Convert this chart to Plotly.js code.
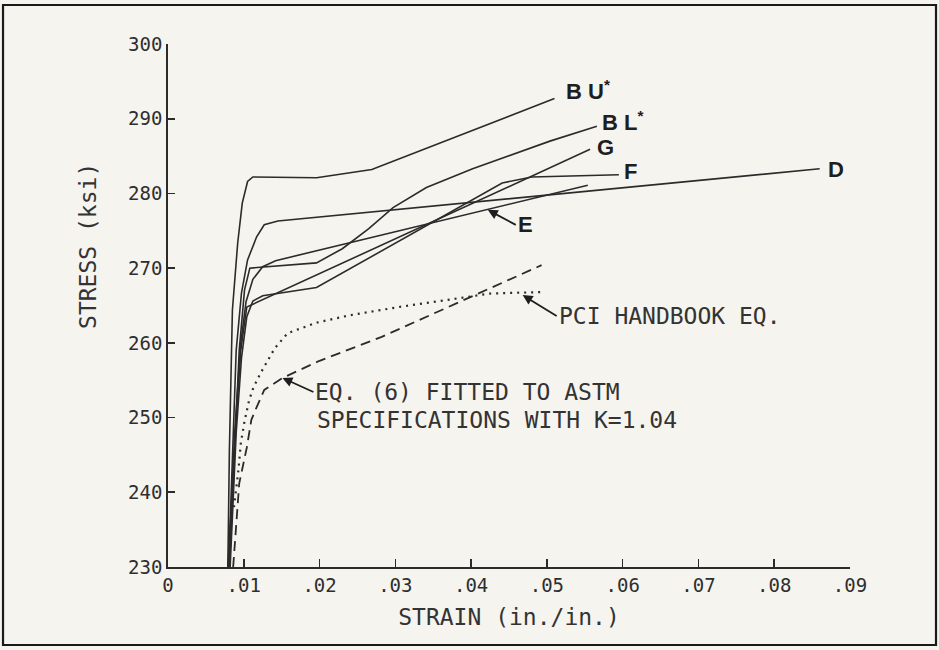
<!DOCTYPE html>
<html>
<head>
<meta charset="utf-8">
<script src="https://cdn.plot.ly/plotly-3.0.1.min.js"></script>
<style>
  html, body { margin: 0; padding: 0; background: #f6f4ef; }
  #chart { width: 939px; height: 650px; }
</style>
</head>
<body>
<div id="chart"></div>
<script>
// ---- data (strain in./in., stress ksi) ----
const buStrain = [0.0079, 0.0081, 0.0085, 0.0092, 0.0098, 0.0105, 0.0112, 0.0196, 0.0269, 0.0510];
const buStress = [230.0, 245.6, 264.4, 273.4, 278.7, 281.6, 282.2, 282.1, 283.2, 292.7];

const blStrain = [0.0079, 0.0088, 0.0094, 0.0101, 0.0108, 0.0196, 0.0230, 0.0265, 0.0297, 0.0341, 0.0402, 0.0504, 0.0566];
const blStress = [230.0, 245.6, 259.0, 267.1, 270.0, 270.7, 272.6, 275.3, 278.1, 280.8, 283.3, 287.0, 289.0];

const gStrain = [0.0081, 0.0090, 0.0096, 0.0104, 0.0557];
const gStress = [230.0, 250.0, 259.0, 264.8, 285.9];

const fStrain = [0.0082, 0.0090, 0.0097, 0.0104, 0.0112, 0.0125, 0.0196, 0.0441, 0.0480, 0.0595];
const fStress = [230.0, 248.0, 258.0, 263.5, 265.6, 266.3, 267.4, 281.4, 282.2, 282.5];

const dStrain = [0.0080, 0.0085, 0.0090, 0.0097, 0.0105, 0.0117, 0.0127, 0.0145, 0.0860];
const dStress = [230.0, 245.6, 259.0, 266.7, 271.1, 274.2, 275.8, 276.3, 283.3];

const eStrain = [0.0080, 0.0088, 0.0096, 0.0103, 0.0112, 0.0125, 0.0142, 0.0554];
const eStress = [230.0, 248.0, 260.0, 265.5, 268.5, 270.2, 271.0, 281.1];

const eq6Strain = [0.0086, 0.0090, 0.0094, 0.0104, 0.0110, 0.0117, 0.0127, 0.0151, 0.0200, 0.0282, 0.0395, 0.0493];
const eq6Stress = [230.0, 235.0, 241.2, 246.0, 249.7, 251.4, 253.7, 255.3, 257.6, 260.8, 266.0, 270.4];

const pciStrain = [0.0087, 0.0093, 0.0096, 0.0101, 0.0107, 0.0113, 0.0123, 0.0141, 0.0158, 0.0196, 0.0240, 0.0305, 0.0372, 0.0425, 0.0493];
const pciStress = [238.0, 243.0, 246.5, 249.5, 252.3, 254.1, 256.1, 259.3, 261.3, 262.7, 263.7, 264.8, 265.8, 266.6, 266.8];

const xTickVals = [0, 0.01, 0.02, 0.03, 0.04, 0.05, 0.06, 0.07, 0.08, 0.09];
const xTickText = ['0', '.01', '.02', '.03', '.04', '.05', '.06', '.07', '.08', '.09'];
const yTickVals = [230, 240, 250, 260, 270, 280, 290, 300];
const yTickText = ['230', '240', '250', '260', '270', '280', '290', '300'];

// ---- styling ----
const ink = '#2b2b2b';
const mono = 'DejaVu Sans Mono, monospace';
const bold = 'Liberation Sans, Arial, sans-serif';

function solid(x, y, name) {
  return {x: x, y: y, name: name, type: 'scatter', mode: 'lines',
          line: {color: ink, width: 1.6}, hoverinfo: 'skip'};
}

const traces = [
  solid(buStrain, buStress, 'BU*'),
  solid(blStrain, blStress, 'BL*'),
  solid(gStrain, gStress, 'G'),
  solid(fStrain, fStress, 'F'),
  solid(dStrain, dStress, 'D'),
  solid(eStrain, eStress, 'E'),
  {x: eq6Strain, y: eq6Stress, name: 'Eq. (6)', type: 'scatter', mode: 'lines',
   line: {color: ink, width: 1.8, dash: '10px,6px'}, hoverinfo: 'skip'},
  {x: pciStrain, y: pciStress, name: 'PCI', type: 'scatter', mode: 'lines',
   line: {color: ink, width: 2.2, dash: '2px,5px'}, hoverinfo: 'skip'}
];

const boldFont = {family: bold, size: 22, color: '#1e1e1e', weight: 'bold'};
const monoFont = {family: mono, size: 23, color: '#333333'};

function lbl(text, x, y) {
  return {text: text, x: x, y: y, xref: 'x', yref: 'y', showarrow: false,
          xanchor: 'left', yanchor: 'middle', font: boldFont};
}
function note(text, x, y) {
  return {text: text, x: x, y: y, xref: 'x', yref: 'y', showarrow: false,
          xanchor: 'left', yanchor: 'middle', font: monoFont};
}
// text whose left-middle point is the tail of an arrow pointing at (x, y)
function pointer(text, x, y, ax, ay, font) {
  return {text: text, x: x, y: y, xref: 'x', yref: 'y', ax: ax, ay: ay,
          xanchor: 'left', yanchor: 'middle', showarrow: true,
          arrowhead: 2, arrowsize: 1.1, arrowwidth: 1.8, arrowcolor: '#1e1e1e',
          standoff: 0, startstandoff: 0, font: font};
}

const annotations = [
  lbl('B U<sup>*</sup>', 0.0522, 293.9),
  lbl('B L<sup>*</sup>', 0.0570, 289.7),
  lbl('G', 0.0563, 286.2),
  lbl('F', 0.0599, 282.9),
  lbl('D', 0.0868, 283.2),
  pointer('E', 0.0422, 277.8, 28, 15, boldFont),
  pointer('PCI HANDBOOK EQ.', 0.0468, 266.4, 34, 21, monoFont),
  pointer('EQ. (6) FITTED TO ASTM', 0.0151, 255.3, 31, 14, monoFont),
  note('SPECIFICATIONS WITH K=1.04', 0.0194, 249.7),
  {text: 'STRESS (ksi)', xref: 'paper', yref: 'y', x: -0.117, y: 273.0,
   textangle: -90, showarrow: false, xanchor: 'center', yanchor: 'middle',
   font: monoFont}
];

const layout = {
  width: 939, height: 650,
  margin: {l: 168, r: 89, t: 44, b: 83},
  paper_bgcolor: '#f6f4ef',
  plot_bgcolor: '#f6f4ef',
  showlegend: false,
  xaxis: {
    range: [0, 0.09], tickvals: xTickVals, ticktext: xTickText,
    ticks: 'inside', ticklen: 8, tickwidth: 1.6, tickcolor: ink,
    showline: true, linecolor: ink, linewidth: 1.8,
    showgrid: false, zeroline: false,
    tickfont: {family: mono, size: 19, color: '#2e2e2e'},
    title: {text: 'STRAIN (in./in.)', font: monoFont, standoff: 14}
  },
  yaxis: {
    range: [230, 300], tickvals: yTickVals, ticktext: yTickText,
    ticks: 'inside', ticklen: 7, tickwidth: 1.6, tickcolor: ink,
    showline: true, linecolor: ink, linewidth: 1.8,
    showgrid: false, zeroline: false,
    tickfont: {family: mono, size: 19, color: '#2e2e2e'}
  },
  annotations: annotations,
  shapes: [
    {type: 'rect', xref: 'paper', yref: 'paper',
     x0: -0.2419, x1: 1.1261, y0: -0.1491, y1: 1.0746,
     line: {color: '#1a1a1a', width: 2.2}, fillcolor: 'rgba(0,0,0,0)', layer: 'above'}
  ]
};

Plotly.newPlot('chart', traces, layout, {displayModeBar: false, staticPlot: true});
</script>
</body>
</html>
